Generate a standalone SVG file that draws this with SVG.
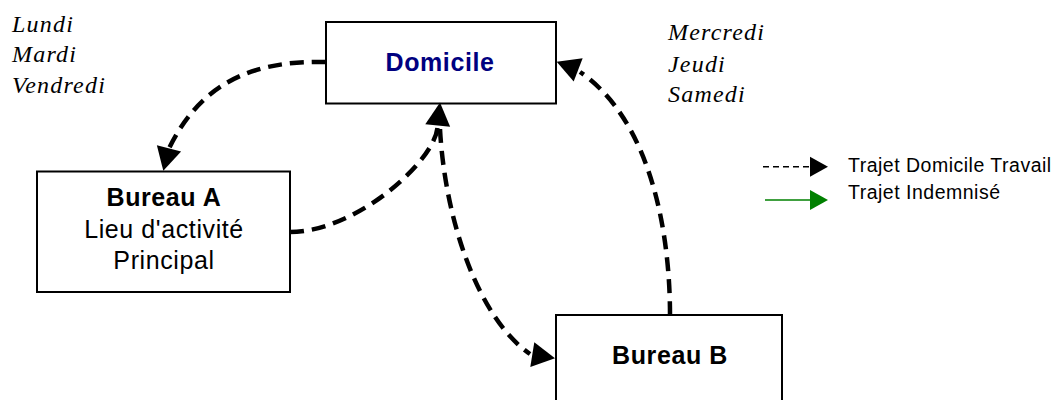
<svg xmlns="http://www.w3.org/2000/svg" xmlns:xlink="http://www.w3.org/1999/xlink" width="1063" height="400" viewBox="0 0 1063 400">
  <style>
    .box { fill: #ffffff; stroke: #000000; stroke-width: 2; }
    .title { font-family: "Liberation Sans", Arial, sans-serif; font-size: 25px; font-weight: bold; letter-spacing: 0.6px; text-anchor: middle; fill: #000000; }
    .sub { font-family: "Liberation Sans", Arial, sans-serif; font-size: 25px; letter-spacing: 0.6px; text-anchor: middle; fill: #000000; }
    .days { font-family: "Liberation Serif", "Times New Roman", serif; font-size: 24px; font-style: italic; letter-spacing: 1.2px; fill: #000000; }
    .legend { font-family: "Liberation Sans", Arial, sans-serif; font-size: 19.5px; letter-spacing: 0.5px; fill: #000000; }
    .trip { fill: none; stroke: #000000; stroke-width: 4.5; stroke-dasharray: 14 8; }
    .head { fill: #000000; }
  </style>
  <defs>
    <!-- arrowhead with its tip at the origin, pointing along +x -->
    <path id="head" d="M0,0 L-23,-12.5 L-23,12.5 z"/>
    <path id="smallHead" d="M0,0 L-18,-10 L-18,10 z"/>
  </defs>

  <rect width="1063" height="400" fill="#ffffff"/>

  <!-- day labels -->
  <g id="days-left">
    <text class="days" x="12" y="31.7">Lundi</text>
    <text class="days" x="12" y="62">Mardi</text>
    <text class="days" x="12" y="92.7">Vendredi</text>
  </g>
  <g id="days-right">
    <text class="days" x="668" y="40">Mercredi</text>
    <text class="days" x="668" y="71.5">Jeudi</text>
    <text class="days" x="668" y="101.7">Samedi</text>
  </g>

  <!-- nodes -->
  <g id="domicile">
    <rect class="box" x="326" y="22" width="230" height="81.5"/>
    <text class="title" x="440" y="71" style="fill:#000080">Domicile</text>
  </g>
  <g id="bureau-a">
    <rect class="box" x="37" y="171.5" width="253" height="120.5"/>
    <text class="title" x="164" y="206">Bureau A</text>
    <text class="sub" x="164" y="238">Lieu d'activité</text>
    <text class="sub" x="164" y="269">Principal</text>
  </g>
  <g id="bureau-b">
    <rect class="box" x="556" y="315" width="226" height="100"/>
    <text class="title" x="670" y="364">Bureau B</text>
  </g>

  <!-- journeys -->
  <g id="connectors">
    <!-- Domicile -> Bureau A -->
    <path class="trip" d="M326,62 C250,60 200,85 169,148.3"/>
    <use xlink:href="#head" class="head" transform="translate(163.3,170.7) rotate(104.3)"/>
    <!-- Bureau A -> Domicile -->
    <path class="trip" d="M290,232 C355,232 434,162.5 437.5,127.5"/>
    <use xlink:href="#head" class="head" transform="translate(440,102.5) rotate(-84.3)"/>
    <!-- Domicile -> Bureau B -->
    <path class="trip" d="M440,129 C445,220 478,318 530,354"/>
    <use xlink:href="#head" class="head" transform="translate(555,358.3) rotate(9.2)"/>
    <!-- Bureau B -> Domicile -->
    <path class="trip" d="M670,315 C670,230 650,120 580,72"/>
    <use xlink:href="#head" class="head" transform="translate(556.7,61.7) rotate(201)"/>
  </g>

  <!-- legend -->
  <g id="legend">
    <line x1="763" y1="166.7" x2="811" y2="166.7" stroke="#000000" stroke-width="1.6" stroke-dasharray="6 4"/>
    <use xlink:href="#smallHead" fill="#000000" transform="translate(828,166.7)"/>
    <text class="legend" x="848" y="172">Trajet Domicile Travail</text>
    <line x1="765" y1="200" x2="811" y2="200" stroke="#008000" stroke-width="1.6"/>
    <use xlink:href="#smallHead" fill="#008000" transform="translate(828,200)"/>
    <text class="legend" x="848" y="198.5">Trajet Indemnisé</text>
  </g>
</svg>
